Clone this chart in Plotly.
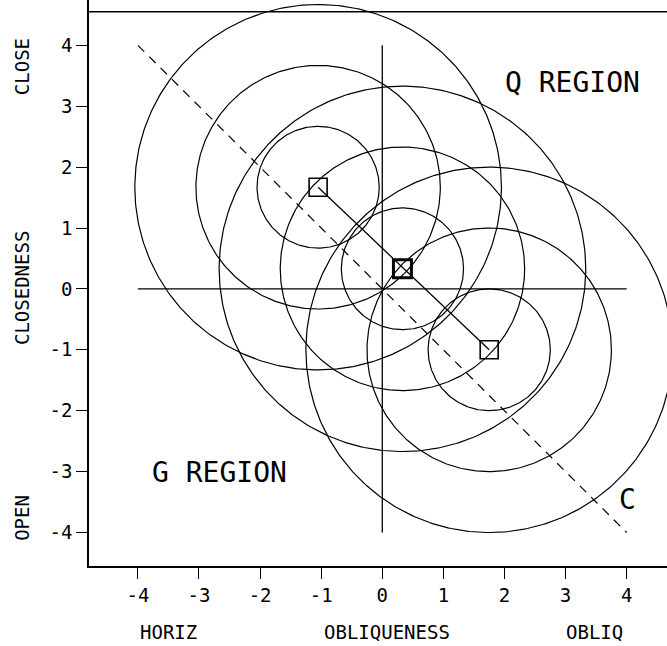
import numpy as np
import plotly.graph_objects as go

# ---- data ----
center_x = [-1.05, 0.33, 1.75]
center_y = [1.67, 0.33, -1.0]
radii = [1, 2, 3]
axis_ticks = [-4, -3, -2, -1, 0, 1, 2, 3, 4]
cross_h_x = [-4, 4]
cross_h_y = [0, 0]
cross_v_x = [0, 0]
cross_v_y = [-4, 4]
diag_x = [-4, 4]
diag_y = [4, -4]
region_labels = ["Q REGION", "G REGION", "C"]
region_x = [3.12, -2.67, 4.02]
region_y = [3.39, -3.02, -3.45]

FONT = "DejaVu Sans Mono"
fig = go.Figure()

theta = np.linspace(0, 2 * np.pi, 361)
for cx, cy in zip(center_x, center_y):
    for r in radii:
        fig.add_trace(go.Scatter(x=cx + r * np.cos(theta), y=cy + r * np.sin(theta),
                                 mode="lines", line=dict(color="black", width=1.2),
                                 hoverinfo="skip", showlegend=False))

fig.add_trace(go.Scatter(x=cross_h_x, y=cross_h_y, mode="lines",
                         line=dict(color="black", width=1.3), showlegend=False))
fig.add_trace(go.Scatter(x=cross_v_x, y=cross_v_y, mode="lines",
                         line=dict(color="black", width=1.3), showlegend=False))
fig.add_trace(go.Scatter(x=diag_x, y=diag_y, mode="lines",
                         line=dict(color="black", width=1.2, dash="9px,7px"), showlegend=False))
fig.add_trace(go.Scatter(x=[center_x[0], center_x[2]], y=[center_y[0], center_y[2]], mode="lines",
                         line=dict(color="black", width=1.3), showlegend=False))
fig.add_trace(go.Scatter(x=[center_x[0], center_x[2]], y=[center_y[0], center_y[2]], mode="markers",
                         marker=dict(symbol="square-open", size=18, color="black",
                                     line=dict(width=1.6, color="black")), showlegend=False))
fig.add_trace(go.Scatter(x=[center_x[1]], y=[center_y[1]], mode="markers",
                         marker=dict(symbol="square-open", size=18, color="black",
                                     line=dict(width=3, color="black")), showlegend=False))

for t, x, y in zip(region_labels, region_x, region_y):
    fig.add_annotation(x=x, y=y, text=t, showarrow=False, xanchor="center", yanchor="middle",
                       font=dict(family=FONT, size=28, color="black"))

# outside labels
outside = [
    ("CLOSE", -0.116, 0.883, -90),
    ("CLOSEDNESS", -0.116, 0.491, -90),
    ("OPEN", -0.116, 0.085, -90),
    ("HORIZ", 0.138, -0.117, 0),
    ("OBLIQUENESS", 0.515, -0.117, 0),
    ("OBLIQ", 0.874, -0.117, 0),
]
for t, x, y, a in outside:
    fig.add_annotation(x=x, y=y, xref="paper", yref="paper", text=t, showarrow=False,
                       xanchor="center", yanchor="middle",
                       textangle=a, font=dict(family=FONT, size=19, color="black"))

# top frame line
fig.add_shape(type="line", xref="paper", yref="y", x0=0, x1=1, y0=4.55, y1=4.55,
              line=dict(color="black", width=1.5))

fig.update_xaxes(range=[-4.8, 4.66], tickvals=axis_ticks, ticktext=[str(v) for v in axis_ticks],
                 showgrid=False, zeroline=False, showline=True, linecolor="black", linewidth=1.5,
                 ticks="outside", ticklen=11, tickcolor="black", tickwidth=1.3,
                 tickfont=dict(family=FONT, size=19, color="black"))
fig.update_yaxes(range=[-4.55, 4.744], tickvals=axis_ticks, ticktext=[str(v) for v in axis_ticks],
                 showgrid=False, zeroline=False, showline=True, linecolor="black", linewidth=1.5,
                 ticks="outside", ticklen=11, tickcolor="black", tickwidth=1.3,
                 tickfont=dict(family=FONT, size=19, color="black"))

fig.update_layout(width=667, height=646, margin=dict(l=89, r=0, t=0, b=80),
                  plot_bgcolor="white", paper_bgcolor="white", showlegend=False)

fig.write_html("out.html")
